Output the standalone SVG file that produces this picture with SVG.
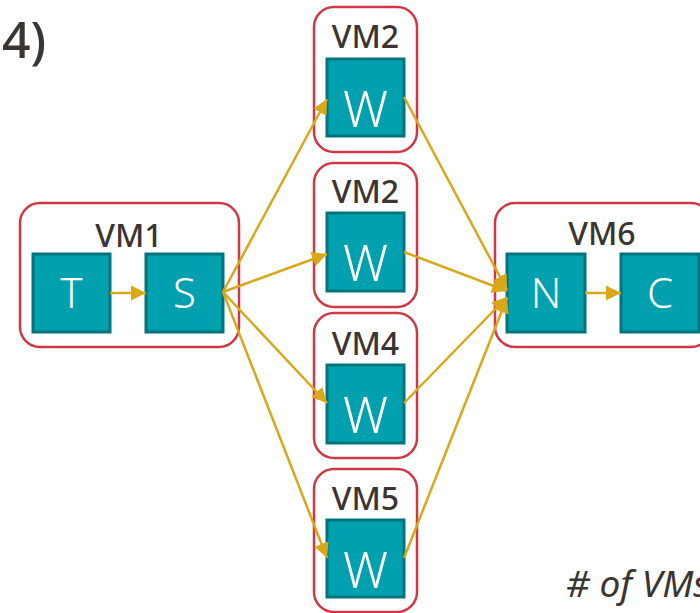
<svg xmlns="http://www.w3.org/2000/svg" width="700" height="613" viewBox="0 0 700 613">
<style>
.vm{fill:#fff;stroke:#d13845;stroke-width:2.5}
.box{fill:#01a0af;stroke:#00747d;stroke-width:3}
.lab{font-family:"Noto Sans","Open Sans",sans-serif;font-size:32px;fill:#3a3531;text-anchor:middle;font-weight:500}
.in{font-family:"Noto Sans","Open Sans",sans-serif;font-size:42px;fill:#fff;text-anchor:middle;font-weight:300}
.w{font-family:"Noto Sans","Open Sans",sans-serif;font-size:50px;fill:#fff;text-anchor:middle;font-weight:300}
.e{stroke:#d9a81a;stroke-width:2.5;fill:none;marker-end:url(#ah)}
</style>
<defs>
<marker id="ah" markerWidth="16" markerHeight="16" refX="15" refY="8" orient="auto" markerUnits="userSpaceOnUse"><path d="M0,0.5 L15,8 L0,15.5 z" fill="#d9a81a"/></marker>
</defs>
<text x="2" y="58" font-family="Noto Sans, Open Sans, sans-serif" font-size="50" font-weight="500" fill="#3a3531">4)</text>
<g id="vm1">
<rect class="vm" x="20" y="203" width="219" height="144" rx="20"/>
<text class="lab" x="129" y="247">VM1</text>
<g id="T"><rect class="box" x="33" y="254" width="77" height="78"/><text class="in" x="71.5" y="308">T</text></g>
<g id="S"><rect class="box" x="146" y="254" width="77" height="78"/><text class="in" x="184.5" y="308">S</text></g>
</g>
<g id="vm2a">
<rect class="vm" x="314" y="7" width="103" height="145" rx="20"/>
<text class="lab" x="365.5" y="48">VM2</text>
<g id="W1"><rect class="box" x="327" y="59" width="77" height="77"/><text class="w" x="365.5" y="127">W</text></g>
</g>
<g id="vm2b">
<rect class="vm" x="314" y="163" width="103" height="144" rx="20"/>
<text class="lab" x="365.5" y="203">VM2</text>
<g id="W2"><rect class="box" x="327" y="213" width="77" height="78"/><text class="w" x="365.5" y="281">W</text></g>
</g>
<g id="vm4">
<rect class="vm" x="314" y="313" width="103" height="145" rx="20"/>
<text class="lab" x="365.5" y="355">VM4</text>
<g id="W4"><rect class="box" x="327" y="365" width="77" height="78"/><text class="w" x="365.5" y="433">W</text></g>
</g>
<g id="vm5">
<rect class="vm" x="314" y="469" width="103" height="143" rx="20"/>
<text class="lab" x="365.5" y="510">VM5</text>
<g id="W5"><rect class="box" x="327" y="520" width="77" height="77"/><text class="w" x="365.5" y="588">W</text></g>
</g>
<g id="vm6">
<rect class="vm" x="495" y="203" width="216" height="144" rx="20"/>
<text class="lab" x="602" y="245">VM6</text>
<g id="N"><rect class="box" x="507" y="254" width="78" height="78"/><text class="in" x="546" y="308">N</text></g>
<g id="C"><rect class="box" x="621" y="254" width="78" height="78"/><text class="in" x="660" y="308">C</text></g>
</g>
<g id="edges">
<line class="e" x1="110" y1="293" x2="146" y2="293"/>
<line class="e" x1="585" y1="293" x2="621" y2="293"/>
<line class="e" x1="223" y1="292" x2="327" y2="99"/>
<line class="e" x1="223" y1="292" x2="327" y2="254"/>
<line class="e" x1="223" y1="292" x2="327" y2="403"/>
<line class="e" x1="223" y1="292" x2="327" y2="558"/>
<line class="e" x1="404" y1="97" x2="507" y2="290"/>
<line class="e" x1="404" y1="252" x2="507" y2="291"/>
<line class="e" x1="404" y1="403" x2="507" y2="297"/>
<line class="e" x1="404" y1="558" x2="507" y2="298"/>
</g>
<text x="566" y="597" font-family="Noto Sans, Open Sans, sans-serif" font-size="37" font-style="italic" fill="#3a3531"># of VMs</text>
</svg>
